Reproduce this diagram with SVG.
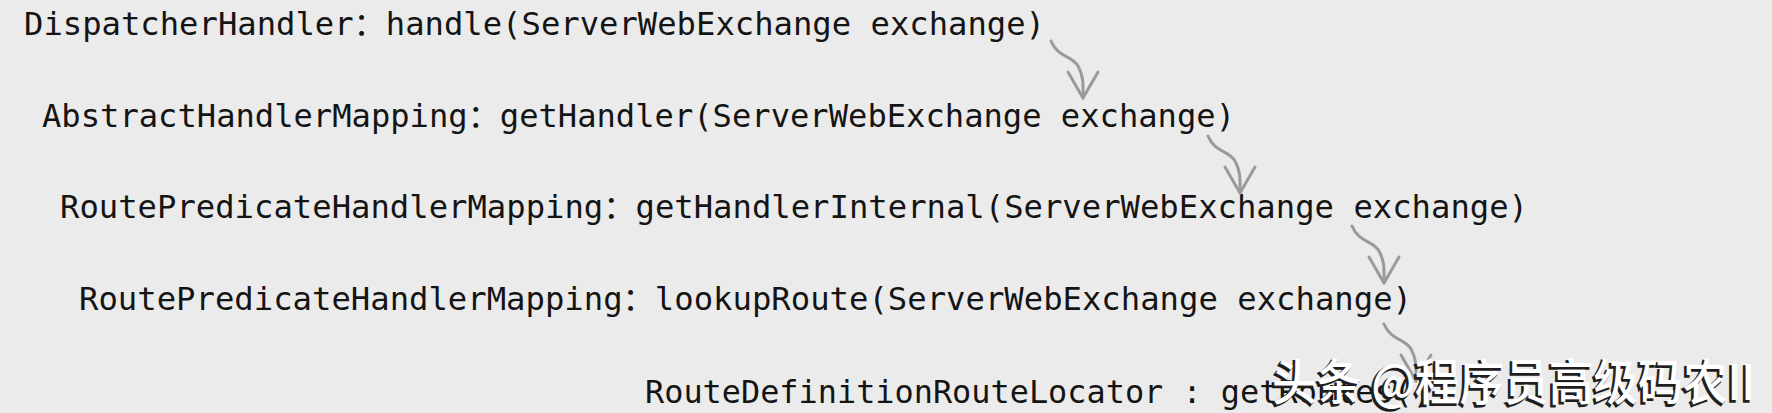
<svg xmlns="http://www.w3.org/2000/svg" xmlns:xlink="http://www.w3.org/1999/xlink" width="1772" height="413" viewBox="0 0 1772 413">
  <style>
    .t { font-family: "DejaVu Sans Mono", "Liberation Mono", "Noto Sans CJK SC", monospace; font-size: 32px; fill: #141414; }
    .arr { fill: none; stroke: #9a9a9a; stroke-width: 3; stroke-linecap: round; stroke-linejoin: round; }
    .wm { font-family: "Noto Sans CJK SC", "Noto Sans", sans-serif; font-size: 49px; font-weight: 500; }
    .wm-shadow { fill: #1e1e1e; stroke: #1e1e1e; stroke-width: 1.5; }
    .wm-fill { fill: #ffffff; }
  </style>
  <defs>
    <g id="squiggle">
      <path class="arr" d="M-32,-57 C-25,-40 -11,-43 -5,-32 S0,-13 0,0"/>
      <path class="arr" d="M-15,-26 L0,0 L15,-26"/>
    </g>
  </defs>
  <rect x="0" y="0" width="1772" height="413" fill="#ebebeb"/>

  <g id="node-dispatcher">
    <text class="t" x="24" y="35" textLength="1021" lengthAdjust="spacingAndGlyphs">DispatcherHandler：handle(ServerWebExchange exchange)</text>
  </g>
  <g id="node-abstract">
    <text class="t" x="42" y="127" textLength="1193" lengthAdjust="spacingAndGlyphs">AbstractHandlerMapping：getHandler(ServerWebExchange exchange)</text>
  </g>
  <g id="node-internal">
    <text class="t" x="60" y="218" textLength="1468" lengthAdjust="spacingAndGlyphs">RoutePredicateHandlerMapping：getHandlerInternal(ServerWebExchange exchange)</text>
  </g>
  <g id="node-lookup">
    <text class="t" x="79" y="310" textLength="1333" lengthAdjust="spacingAndGlyphs">RoutePredicateHandlerMapping：lookupRoute(ServerWebExchange exchange)</text>
  </g>
  <g id="node-routes">
    <text class="t" x="645" y="403" textLength="787" lengthAdjust="spacingAndGlyphs">RouteDefinitionRouteLocator : getRoutes()</text>
  </g>

  <g id="connectors">
    <use xlink:href="#squiggle" href="#squiggle" x="1083" y="98"/>
    <use xlink:href="#squiggle" href="#squiggle" x="1240" y="193"/>
    <use xlink:href="#squiggle" href="#squiggle" x="1384" y="283"/>
    <use xlink:href="#squiggle" href="#squiggle" x="1416" y="381"/>
  </g>

  <g id="watermark">
    <text class="wm wm-shadow" x="1270" y="402" textLength="483" lengthAdjust="spacingAndGlyphs">头条 @程序员高级码农II</text>
    <text class="wm wm-fill" x="1272" y="400" textLength="483" lengthAdjust="spacingAndGlyphs">头条 @程序员高级码农II</text>
  </g>
</svg>
